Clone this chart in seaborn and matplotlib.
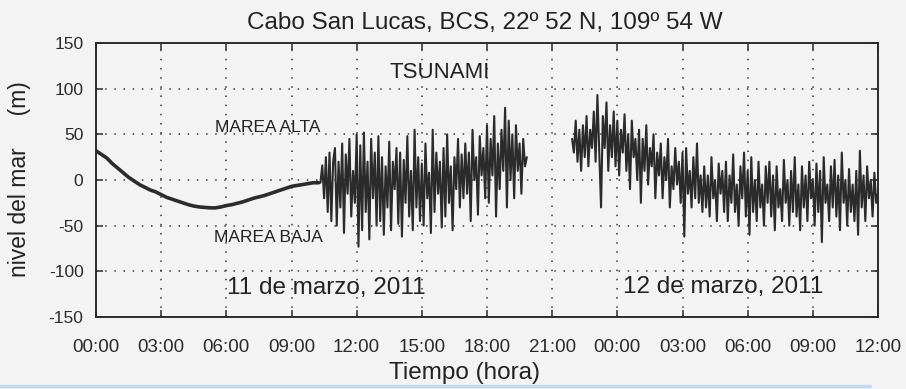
import numpy as np
import pandas as pd
import matplotlib
matplotlib.use("Agg")
import matplotlib.pyplot as plt
from matplotlib.lines import Line2D
import seaborn as sns

# ---------------- data ----------------
# tide before the tsunami, every 15 min starting 00:00 (hours)
tide_start = 0.0
tide_step = 0.25
tide_vals = [32, 28, 24, 18, 13, 8, 3, -1, -5, -8, -11, -13, -16, -19, -21, -23,
             -25, -27, -28.5, -29.5, -30, -30.5, -30.5, -29.5, -28, -27, -25.5, -24,
             -22, -20, -18.5, -17, -15, -13, -11, -9, -7, -6, -5, -4, -3, -3]

# tsunami record 11 March, every 5 min
seg2_start = 10.3333
seg_step = 1 / 12
seg2_vals = [
    -3, 16, -20, 25, -35, 30, -45, 20,
    35, -50, 20, -30, 40, -58, 28, -15, 45, -40, 10, -25,
    50, -73, 38, -55, 52, -35, 20, -65, 45, -20, 30, -50,
    48, -45, 25, -60, 15, -30, 42, -55, 20, -10, 35, -48,
    30, -62, 22, -25, 48, -40, 10, -55, 55, -30, 25, -45,
    18, -50, 40, -20, 8, -58, 55, -35, 30, -15, 20, -52,
    35, -40, 50, -25, 15, -55, 25, -10, 45, -30, 28, -20,
    40, -15, 30, -45, 55, 0, 25, -38, 48, 5, 35, -20,
    60, -25, 45, 5, 70, -40, 40, -10, 55, 10, 79, -30,
    65, 0, 50, -20, 60, 10, 40, -15, 45, 15, 25,
]

# tsunami record continuing into 12 March, every 5 min
seg3_start = 21.9167
seg3_vals = [
    45, 30, 65, 20, 55, 10, 60, 25, 70, 15, 55, 35, 75,
    20, 93, 30, -30, 70, 35, 85, 10, 60, 25, 75, 15,
    65, 5, 55, 30, 72, 10, 50, -10, 65, 25, 45, 0,
    55, -25, 45, 10, 60, -5, 35, 15, 50, -20, 30, 5,
    40, -20, 25, 0, 45, -30, 15, -10, 35, -5, 20, -25,
    30, -62, 35, -15, 10, -30, 25, -20, 40, -25, 5, -35,
    15, -30, 5, -40, 25, -20, 0, -45, 18, -15, 10, -35,
    20, -45, 5, -25, 28, -35, -5, -50, 15, -20, 30, -40,
    10, -60, 25, -35, 0, -45, 20, -30, -5, -50, 15, -25,
    20, -40, 5, -55, 15, -30, -10, -45, 22, -25, 0, -50,
    10, -35, 25, -40, -5, -55, 15, -30, 5, -45, 20, -20,
    0, -50, 18, -35, 10, -68, 25, -25, -5, -45, 15, -30,
    22, -40, 5, -55, 30, -25, 0, -50, 12, -35, -5, -45,
    10, -60, 32, -30, 5, -45, 15, -20, 0, -40, 8, -25, -15,
]

x_ticks = list(range(0, 37, 3))
x_labels = ["00:00", "03:00", "06:00", "09:00", "12:00", "15:00", "18:00",
            "21:00", "00:00", "03:00", "06:00", "09:00", "12:00"]
y_ticks = [-150, -100, -50, 0, 50, 100, 150]
y_labels = ["-150", "-100", "-50", "0", "50", "100", "150"]

# ---------------- tables ----------------
df_tide = pd.DataFrame({
    "hora": tide_start + tide_step * np.arange(len(tide_vals)),
    "nivel": tide_vals,
})
df_tsu = pd.concat([
    pd.DataFrame({"hora": seg2_start + seg_step * np.arange(len(seg2_vals)),
                  "nivel": seg2_vals, "tramo": 1}),
    pd.DataFrame({"hora": seg3_start + seg_step * np.arange(len(seg3_vals)),
                  "nivel": seg3_vals, "tramo": 2}),
], ignore_index=True)

# ---------------- figure ----------------
sns.set_theme(style="ticks")
plt.rcParams["font.family"] = ["Liberation Sans", "DejaVu Sans"]

W, H = 906, 389
bg = "#f3f3f3"
ink = "#2b2b2b"
fig = plt.figure(figsize=(W / 100, H / 100), dpi=100, facecolor=bg)
ax = fig.add_axes([96 / W, 1 - 317 / H, (878 - 96) / W, (317 - 43) / H])
ax.set_facecolor(bg)

sns.lineplot(data=df_tide, x="hora", y="nivel", ax=ax, color=ink, lw=2.6,
             estimator=None, sort=False)
sns.lineplot(data=df_tsu, x="hora", y="nivel", units="tramo", ax=ax, color=ink,
             lw=1.5, estimator=None, sort=False)

ax.set_xlim(0, 36)
ax.set_ylim(-150, 150)
ax.set_xticks(x_ticks)
ax.set_xticklabels(x_labels)
ax.set_yticks(y_ticks)
ax.set_yticklabels(y_labels)
ax.set_xlabel("")
ax.set_ylabel("")
ax.tick_params(direction="in", length=5, width=1.1, top=True, right=True,
               colors=ink, labelsize=12.5)
ax.tick_params(axis="x", pad=16, labelsize=13.5)
ax.tick_params(axis="y", pad=9)
ax.grid(True, linestyle=(0, (1, 5)), lw=1.1, color="#3a3a3a")
for s in ax.spines.values():
    s.set_color(ink)
    s.set_linewidth(1.4)


def ftext(x, y, s, **kw):
    fig.text(x / W, 1 - y / H, s, ha="center", va="center", color="#222222", **kw)


ftext(485, 23, "Cabo San Lucas, BCS, 22º 52 N, 109º 54 W", fontsize=17.5)
ftext(20, 179, "nivel del mar     (m)", fontsize=16.5, rotation=90)
ftext(465, 373, "Tiempo (hora)", fontsize=17.5)
ftext(440, 72, "TSUNAMI", fontsize=16)
ftext(268, 127, "MAREA ALTA", fontsize=12.5)
ftext(268, 237, "MAREA BAJA", fontsize=12.5)
ftext(326, 288, "11 de marzo, 2011", fontsize=17.5)
ftext(723, 287, "12 de marzo, 2011", fontsize=17.5)

fig.add_artist(Line2D([0, 870 / W], [1 - 386 / H] * 2, color="#c6daef", lw=2.5,
                      transform=fig.transFigure))

fig.savefig("out.png", dpi=100, facecolor=bg)
